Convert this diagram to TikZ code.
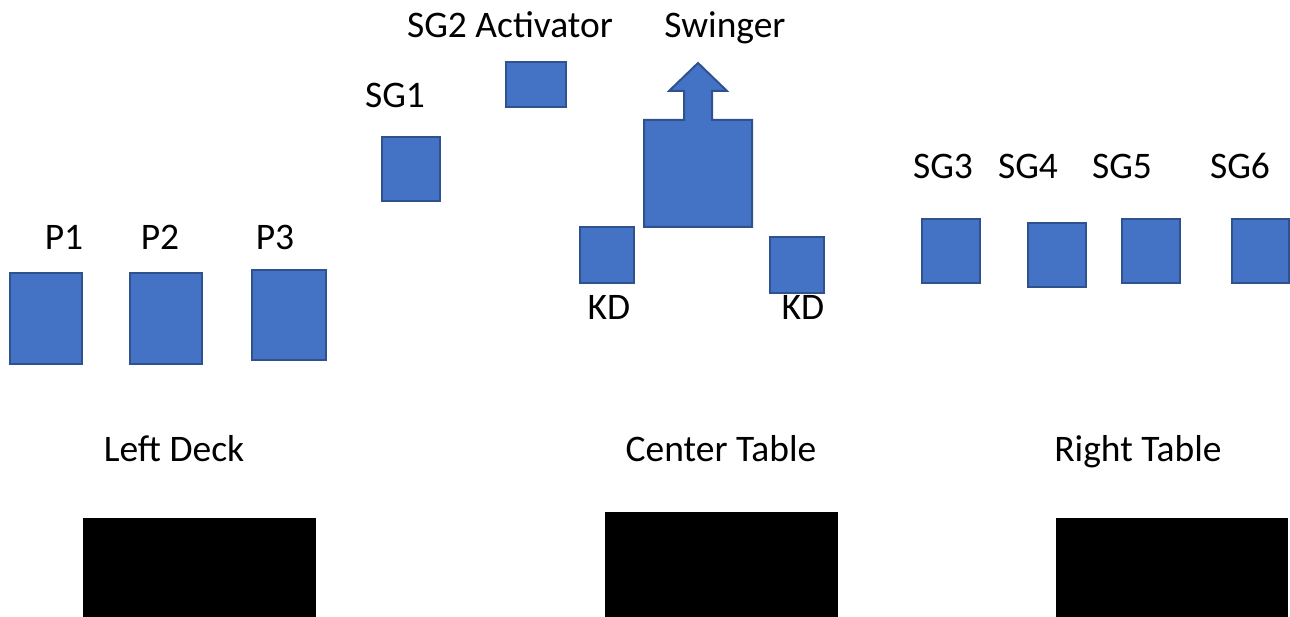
\documentclass[tikz,border=0pt]{standalone}
\usepackage{fontspec}
\setmainfont{Carlito}
\usetikzlibrary{fit}
\definecolor{boxfill}{RGB}{68,114,196}
\definecolor{boxline}{RGB}{47,82,143}
\tikzset{
  bluebox/.style={draw=boxline, fill=boxfill, line width=2pt, inner sep=0pt, outer sep=0pt},
  blackbox/.style={fill=black, draw=none, inner sep=0pt, outer sep=0pt},
  lbl/.style={anchor=base, inner sep=0pt, font=\fontsize{37.5}{45}\selectfont, text=black}
}
\begin{document}
\begin{tikzpicture}[x=1pt, y=-1pt]
\useasboundingbox (0,0) rectangle (1290,617);
% blue boxes
\node[bluebox, fit={(10,273) (82,364)}] (p1) {};
\node[bluebox, fit={(130,273) (202,364)}] (p2) {};
\node[bluebox, fit={(252,270) (326,360)}] (p3) {};
\node[bluebox, fit={(382,137) (440,201)}] (sg1) {};
\node[bluebox, fit={(506,62) (566,107)}] (sg2) {};
\node[bluebox, fit={(580,227) (634,283)}] (kd1) {};
\node[bluebox, fit={(770,237) (824,293)}] (kd2) {};
\node[bluebox, fit={(922,219) (980,283)}] (sg3) {};
\node[bluebox, fit={(1028,223) (1086,287)}] (sg4) {};
\node[bluebox, fit={(1122,219) (1180,283)}] (sg5) {};
\node[bluebox, fit={(1232,219) (1289,283)}] (sg6) {};
% swinger
\coordinate (swing) at (698,174);
\draw[draw=boxline, fill=boxfill, line width=2pt, line join=miter]
  (644,227) -- (644,120) -- (684,120) -- (684,91) -- (669,91) -- (698,63)
  -- (727,91) -- (712,91) -- (712,120) -- (752,120) -- (752,227) -- cycle;
% black tables
\node[blackbox, fit={(83,518) (316,617)}] (leftdeck) {};
\node[blackbox, fit={(605,512) (838,617)}] (centertable) {};
\node[blackbox, fit={(1056,518) (1288,617)}] (righttable) {};
% labels
\node[lbl] (lsg2) at (510,38) {SG2 Activator};
\node[lbl] (lswing) at (725,38) {Swinger};
\node[lbl] (lsg1) at (395,108) {SG1};
\node[lbl] (lsg3) at (943,179) {SG3};
\node[lbl] (lsg4) at (1028,179) {SG4};
\node[lbl] (lsg5) at (1122,179) {SG5};
\node[lbl] (lsg6) at (1240,179) {SG6};
\node[lbl] (lp1) at (64,250) {P1};
\node[lbl] (lp2) at (160,250) {P2};
\node[lbl] (lp3) at (275,250) {P3};
\node[lbl] (lkd1) at (609,320) {KD};
\node[lbl] (lkd2) at (803,320) {KD};
\node[lbl] (lleft) at (174,461) {Left Deck};
\node[lbl] (lcenter) at (721,461) {Center Table};
\node[lbl] (lright) at (1138,461) {Right Table};
\end{tikzpicture}
\end{document}
